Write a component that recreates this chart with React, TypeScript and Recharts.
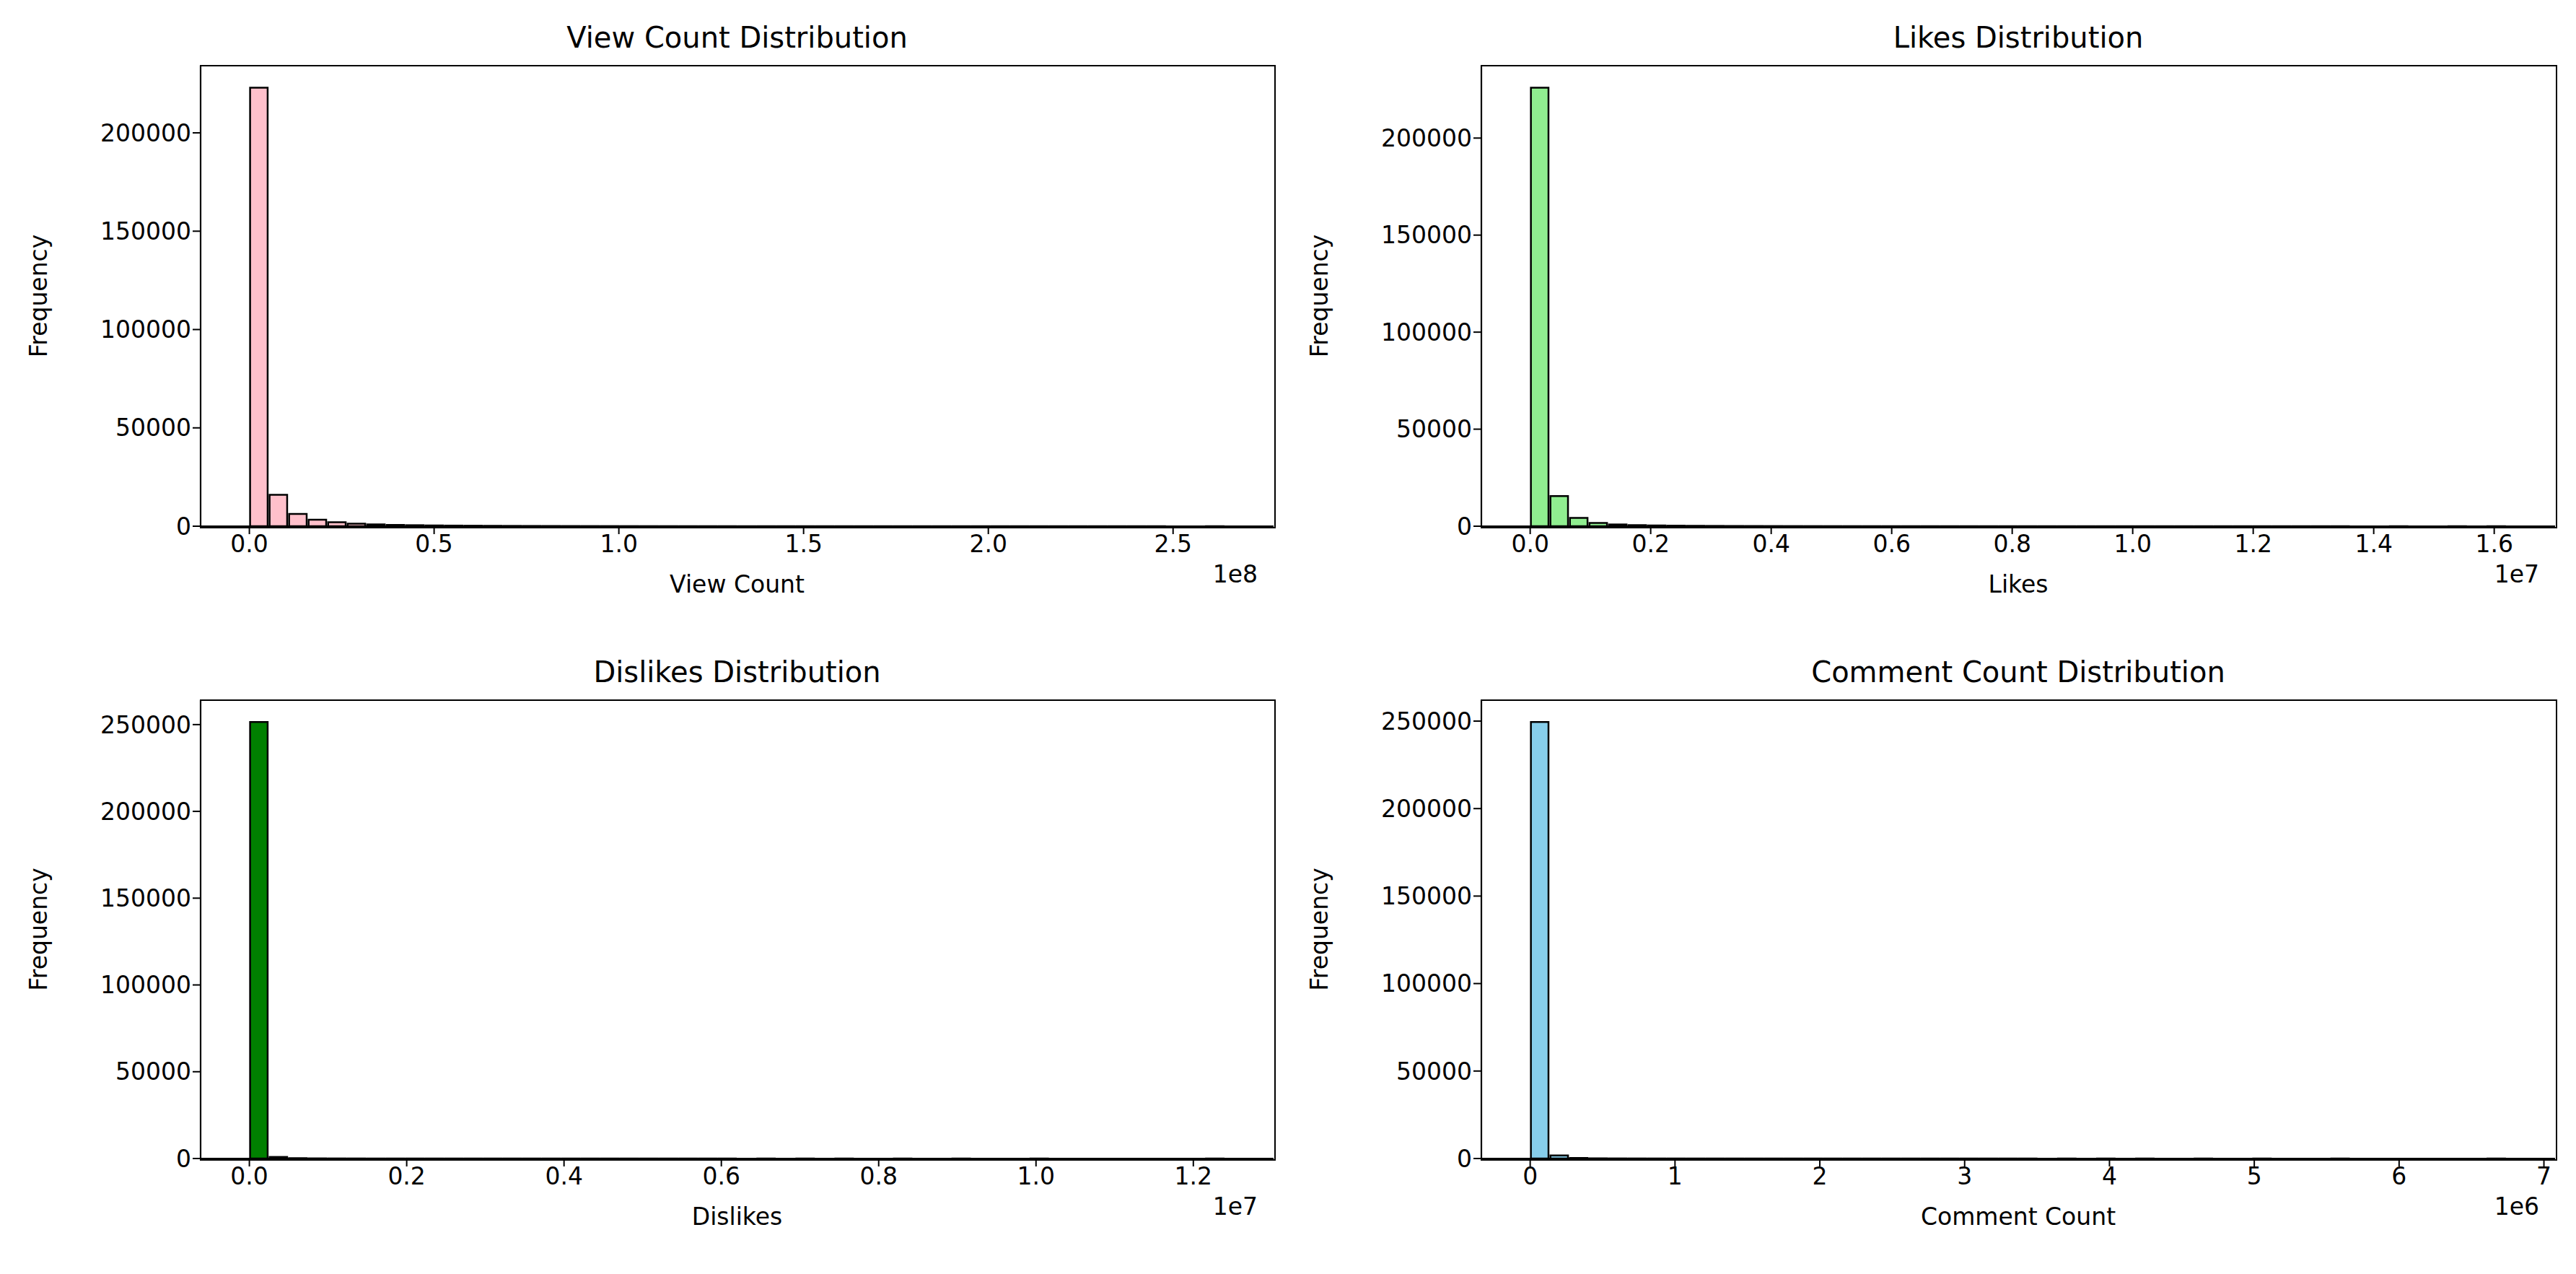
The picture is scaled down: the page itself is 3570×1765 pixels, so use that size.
import { ComposedChart, Bar, XAxis, YAxis, Label } from "recharts";

const viewCounts = [223000, 16000, 6200, 3300, 2000, 1300, 900, 650, 500, 380, 300, 240, 190, 150, 120, 100, 80, 60, 50, 40, 30, 25, 20, 18, 15, 12, 10, 8, 7, 6, 5, 4, 4, 3, 3, 2, 2, 2, 1, 1, 1, 1, 1, 1, 1, 1, 1, 0, 0, 1];
const likesCounts = [226000, 15500, 4300, 1700, 900, 550, 380, 270, 200, 150, 110, 90, 70, 55, 45, 35, 28, 22, 18, 15, 12, 10, 8, 7, 6, 5, 4, 3, 3, 2, 2, 2, 1, 1, 1, 1, 1, 1, 1, 1, 1, 1, 0, 0, 1, 0, 0, 1, 0, 1];
const dislikesCounts = [251500, 900, 200, 80, 40, 25, 15, 10, 8, 6, 5, 4, 3, 3, 2, 2, 2, 1, 1, 1, 1, 1, 1, 1, 1, 0, 1, 0, 1, 0, 1, 0, 0, 1, 0, 0, 1, 0, 0, 0, 1, 0, 0, 0, 0, 0, 0, 0, 0, 1];
const commentCounts = [249500, 1800, 300, 100, 50, 30, 20, 14, 10, 8, 6, 5, 4, 3, 3, 2, 2, 2, 1, 1, 1, 1, 1, 1, 1, 1, 0, 1, 0, 1, 0, 1, 0, 0, 1, 0, 0, 1, 0, 0, 0, 1, 0, 0, 0, 0, 0, 0, 0, 1];

const viewMax = 2.64e8;
const likesMax = 1.62e7;
const dislikesMax = 1.24e7;
const commentMax = 6.74e6;

const viewTicks = [0, 0.5e8, 1e8, 1.5e8, 2e8, 2.5e8];
const likesTicks = [0, 0.2e7, 0.4e7, 0.6e7, 0.8e7, 1e7, 1.2e7, 1.4e7, 1.6e7];
const dislikesTicks = [0, 0.2e7, 0.4e7, 0.6e7, 0.8e7, 1e7, 1.2e7];
const commentTicks = [0, 1e6, 2e6, 3e6, 4e6, 5e6, 6e6, 7e6];
const yTicksTop = [0, 50000, 100000, 150000, 200000];
const yTicksBottom = [0, 50000, 100000, 150000, 200000, 250000];

const FONT = "DejaVu Sans, sans-serif";
const W = 1785;
const H = 882;

type PanelProps = {
  title: string;
  xLabel: string;
  counts: number[];
  max: number;
  xTicks: number[];
  yTicks: number[];
  scale: number;
  exp: string;
  digits: number;
  color: string;
  left: number;
  top: number;
  plotLeft: number;
  plotRight: number;
  plotTop: number;
  plotBottom: number;
};

function Panel(p: PanelProps) {
  const n = p.counts.length;
  const w = p.max / n;
  const data = p.counts.map((c, i) => ({ x: (i + 0.5) * w, c }));
  const plotW = p.plotRight - p.plotLeft;
  const barPx = plotW / (1.1 * n);
  const ymax = Math.max(...p.counts) * 1.05;
  const tick = { fill: "#000", fontSize: 33, fontFamily: FONT };
  const yAxisW = 170;
  const xAxisH = 100;
  const labelStyle = { fill: "#000", fontSize: 33, fontFamily: FONT };
  return (
    <div style={{ position: "absolute", left: p.left, top: p.top, width: W, height: H }}>
      <div style={{ position: "absolute", left: p.plotLeft, width: plotW, top: p.plotTop - 62, textAlign: "center", fontFamily: FONT, fontSize: 40 }}>
        {p.title}
      </div>
      <ComposedChart
        width={W}
        height={H}
        data={data}
        barGap={0}
        margin={{ left: p.plotLeft - yAxisW, right: W - p.plotRight, top: p.plotTop, bottom: H - p.plotBottom - xAxisH }}
      >
        <XAxis
          dataKey="x"
          type="number"
          domain={[-0.05 * p.max, 1.05 * p.max]}
          ticks={p.xTicks}
          tickFormatter={(v: number) => (v / p.scale).toFixed(p.digits)}
          tick={tick}
          tickSize={11}
          height={xAxisH}
          axisLine={{ stroke: "#000", strokeWidth: 2.2 }}
          tickLine={{ stroke: "#000", strokeWidth: 2 }}
          allowDataOverflow
        >
          <Label value={p.xLabel} position="insideBottom" offset={8} style={labelStyle} />
          <Label value={p.exp} position="insideBottomRight" offset={22} style={labelStyle} />
        </XAxis>
        <YAxis
          domain={[0, ymax]}
          ticks={p.yTicks}
          tick={tick}
          tickSize={11}
          width={yAxisW}
          axisLine={{ stroke: "#000", strokeWidth: 2.2 }}
          tickLine={{ stroke: "#000", strokeWidth: 2 }}
          allowDataOverflow
        >
          <Label value="Frequency" angle={-90} position="insideLeft" offset={-55} style={{ ...labelStyle, textAnchor: "middle" }} />
        </YAxis>
        <Bar dataKey="c" fill={p.color} stroke="#000" strokeWidth={2.5} barSize={barPx} isAnimationActive={false} />
      </ComposedChart>
      <div style={{ position: "absolute", left: p.plotLeft - 1, top: p.plotTop - 1, width: plotW, height: p.plotBottom - p.plotTop, border: "2.2px solid #000", pointerEvents: "none" }} />
    </div>
  );
}

export default function App() {
  return (
    <div style={{ position: "relative", width: 3570, height: 1765, background: "#fff", margin: -8 }}>
      <Panel title="View Count Distribution" xLabel="View Count" counts={viewCounts} max={viewMax} xTicks={viewTicks} yTicks={yTicksTop} scale={1e8} exp="1e8" digits={1} color="#ffc0cb"
        left={0} top={0} plotLeft={278} plotRight={1765} plotTop={91} plotBottom={729} />
      <Panel title="Likes Distribution" xLabel="Likes" counts={likesCounts} max={likesMax} xTicks={likesTicks} yTicks={yTicksTop} scale={1e7} exp="1e7" digits={1} color="#90ee90"
        left={1785} top={0} plotLeft={268} plotRight={1756} plotTop={91} plotBottom={729} />
      <Panel title="Dislikes Distribution" xLabel="Dislikes" counts={dislikesCounts} max={dislikesMax} xTicks={dislikesTicks} yTicks={yTicksBottom} scale={1e7} exp="1e7" digits={1} color="#008000"
        left={0} top={882} plotLeft={278} plotRight={1765} plotTop={88} plotBottom={723} />
      <Panel title="Comment Count Distribution" xLabel="Comment Count" counts={commentCounts} max={commentMax} xTicks={commentTicks} yTicks={yTicksBottom} scale={1e6} exp="1e6" digits={0} color="#87ceeb"
        left={1785} top={882} plotLeft={268} plotRight={1756} plotTop={88} plotBottom={723} />
</div>
  );
}
